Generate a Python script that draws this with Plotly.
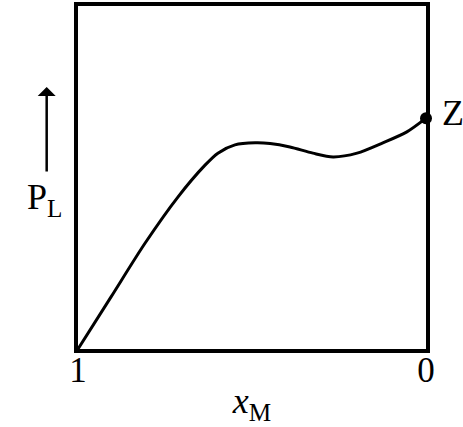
import plotly.graph_objects as go

# Data (x_M decreasing left→right, P_L normalized)
x_m = [1.0, 0.905, 0.807, 0.713, 0.635, 0.598, 0.549, 0.491, 0.448, 0.391, 0.325, 0.267, 0.198, 0.124, 0.055, 0.0]
p_l = [0.0, 0.152, 0.309, 0.443, 0.536, 0.571, 0.595, 0.601, 0.599, 0.589, 0.571, 0.560, 0.571, 0.601, 0.633, 0.673]
z_x = [0.0]
z_y = [0.673]
z_label = ["Z"]
tick_vals = [1, 0]
tick_text = ["1", "0"]

FONT = "Liberation Serif, Times New Roman, serif"

fig = go.Figure()
fig.add_trace(go.Scatter(x=x_m, y=p_l, mode="lines",
                         line=dict(color="black", width=3, shape="spline", smoothing=0.8),
                         hoverinfo="skip", cliponaxis=False))
fig.add_trace(go.Scatter(x=z_x, y=z_y, mode="markers",
                         marker=dict(color="black", size=12),
                         cliponaxis=False, hoverinfo="skip"))

fig.update_layout(
    width=463, height=427,
    margin=dict(l=78, r=37, t=6, b=78, autoexpand=False),
    paper_bgcolor="white", plot_bgcolor="white",
    showlegend=False,
    font=dict(family=FONT, size=36, color="black"),
    xaxis=dict(range=[1, 0], showgrid=False, zeroline=False, showline=True, mirror=True,
               linecolor="black", linewidth=4, tickvals=tick_vals, ticktext=tick_text,
               ticks="", automargin=False, ticklabelstandoff=-13,
               tickfont=dict(size=35, family=FONT, color="black"),
               title=dict(text="<i>x</i><sub>M</sub>", font=dict(size=36, family=FONT), standoff=0)),
    yaxis=dict(range=[0, 1], showgrid=False, zeroline=False, showline=True, mirror=True,
               linecolor="black", linewidth=4, showticklabels=False, ticks="", automargin=False),
    annotations=[
        dict(xref="paper", yref="paper", x=-0.09, y=0.764, ax=0, ay=86, axref="pixel", ayref="pixel",
             showarrow=True, arrowhead=1, arrowsize=1.2, arrowwidth=2.5, arrowcolor="black", text=""),
        dict(xref="paper", yref="paper", x=-0.095, y=0.437, xanchor="center", yanchor="middle",
             text="P<sub>L</sub>", showarrow=False,
             font=dict(size=36, family=FONT, color="black")),
        dict(xref="x", yref="y", x=z_x[0], y=z_y[0], text=z_label[0], showarrow=False,
             xanchor="left", yanchor="middle", xshift=14, yshift=5,
             font=dict(size=36, family=FONT, color="black")),
    ],
)

fig.write_html("out.html", post_script="document.body.style.margin='0';",
               config={"displayModeBar": False})
